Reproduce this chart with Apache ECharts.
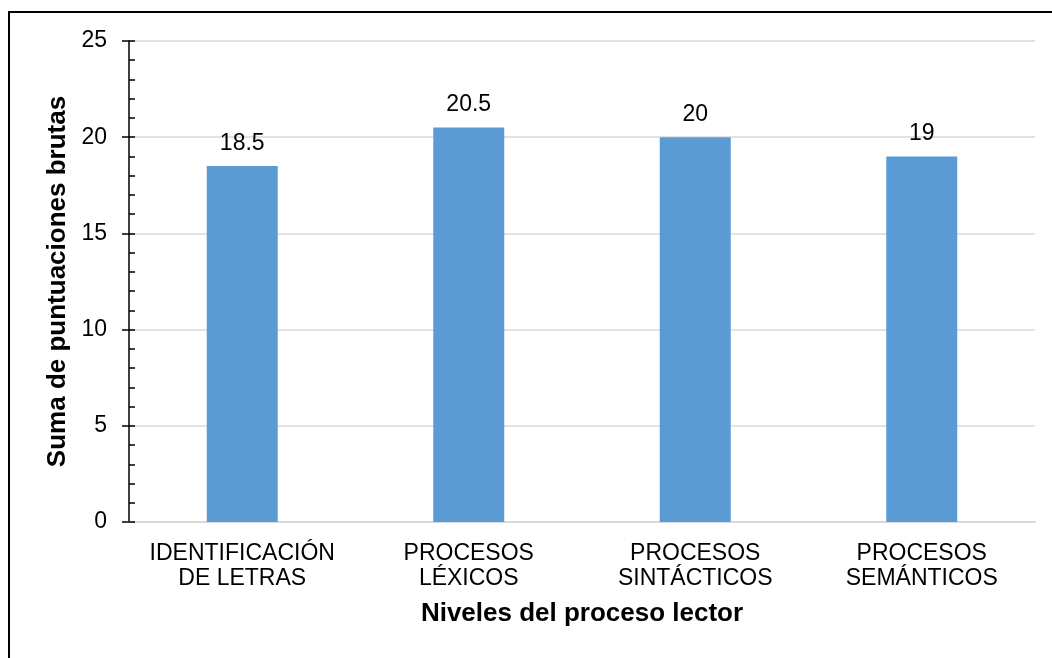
<!DOCTYPE html>
<html>
<head>
<meta charset="utf-8">
<script src="https://cdn.jsdelivr.net/npm/echarts@6/dist/echarts.min.js"></script>
<style>
  html, body { margin: 0; padding: 0; background: #fff; }
  #chart { width: 1052px; height: 658px; }
</style>
</head>
<body>
<div id="chart"></div>
<script>
// Reading-process levels and their summed raw scores
const categories = [
  'IDENTIFICACIÓN\nDE LETRAS',
  'PROCESOS\nLÉXICOS',
  'PROCESOS\nSINTÁCTICOS',
  'PROCESOS\nSEMÁNTICOS'
];
const scores = [18.5, 20.5, 20, 19];
const yTicks = [0, 5, 10, 15, 20, 25];

const FONT = '"Liberation Sans", Arial, sans-serif';
const chart = echarts.init(document.getElementById('chart'), null, { renderer: 'canvas' });

chart.setOption({
  backgroundColor: '#ffffff',
  animation: false,
  textStyle: { fontFamily: FONT },
  graphic: [{
    type: 'rect',
    shape: { x: 9, y: 12, width: 1060, height: 660 },
    style: { fill: 'none', stroke: '#000', lineWidth: 2 },
    silent: true
  }],
  grid: { left: 129, right: 17, top: 41, bottom: 136, containLabel: false },
  xAxis: {
    type: 'category',
    data: categories,
    name: 'Niveles del proceso lector',
    nameLocation: 'middle',
    nameGap: 79,
    nameTextStyle: { fontSize: 26, fontWeight: 'bold', color: '#000', fontFamily: FONT },
    axisLine: { show: true, lineStyle: { color: '#d9d9d9', width: 2 } },
    axisTick: { show: false },
    axisLabel: { fontSize: 23, color: '#000', lineHeight: 25, margin: 19, interval: 0, fontFamily: FONT },
    splitLine: { show: false }
  },
  yAxis: [{
    type: 'value',
    min: yTicks[0],
    max: yTicks[yTicks.length - 1],
    interval: 5,
    name: 'Suma de puntuaciones brutas',
    nameLocation: 'middle',
    nameGap: 58,
    nameTextStyle: { fontSize: 26, fontWeight: 'bold', color: '#000', fontFamily: FONT },
    axisLine: { show: true, lineStyle: { color: '#000', width: 1.5 } },
    axisTick: { show: true, inside: false, length: 7, lineStyle: { color: '#000', width: 1.5 } },
    axisLabel: { fontSize: 23, color: '#000', margin: 22, fontFamily: FONT },
    splitLine: { show: true, lineStyle: { color: '#d9d9d9', width: 1.5 } }
  }, {
    // inner minor ticks at every unit
    type: 'value',
    position: 'left',
    min: 0,
    max: 25,
    interval: 1,
    axisLine: { show: false },
    axisTick: { show: true, inside: true, length: 6, lineStyle: { color: '#000', width: 1.5 } },
    axisLabel: { show: false },
    splitLine: { show: false }
  }],
  series: [{
    type: 'bar',
    data: scores,
    barWidth: 71,
    itemStyle: { color: '#5b9bd5' },
    label: {
      show: true,
      position: 'top',
      distance: 11,
      fontSize: 23,
      color: '#000',
      fontFamily: FONT
    }
  }]
});
</script>
</body>
</html>
